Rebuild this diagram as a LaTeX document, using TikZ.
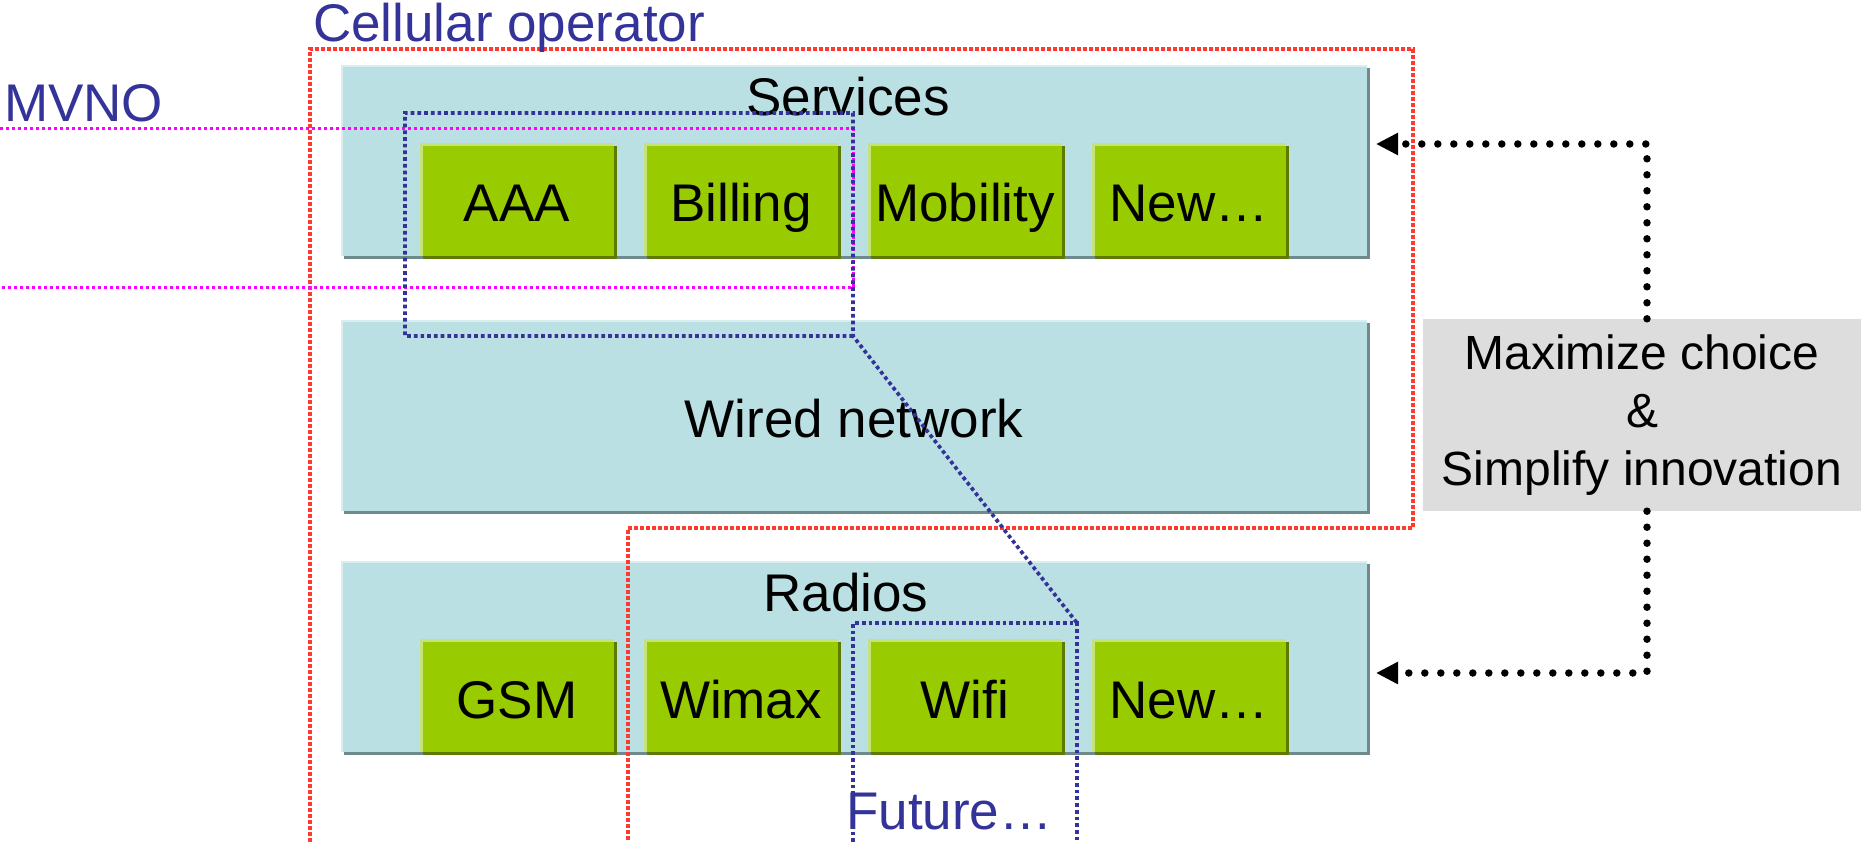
\documentclass[tikz,border=0pt]{standalone}
\usepackage{fontspec}
\setmainfont{Liberation Sans}
\usetikzlibrary{arrows.meta,shadows}

\definecolor{layerfill}{HTML}{BBE0E3}
\definecolor{layershade}{HTML}{6F8A8A}
\definecolor{layerlight}{HTML}{D9EEEF}
\definecolor{modfill}{HTML}{99CC00}
\definecolor{modshade}{HTML}{5F7A00}
\definecolor{modlight}{HTML}{C6E27A}
\definecolor{opred}{HTML}{FF3B30}
\definecolor{mvnoblue}{HTML}{333399}
\definecolor{mvnopink}{HTML}{FF00FF}
\definecolor{notegray}{HTML}{DDDDDD}

\newcommand\lblfont{\fontsize{53}{60}\selectfont}
\newcommand\notefont{\fontsize{48}{58}\selectfont}

\begin{document}
\begin{tikzpicture}[x=1pt,y=-1pt,
  layer/.style={fill=layerfill, draw=none, inner sep=0pt, outer sep=0pt,
    minimum width=1026pt, minimum height=191pt,
    drop shadow={shadow xshift=3pt, shadow yshift=-3pt, opacity=1, fill=layershade}},
  module/.style={fill=modfill, draw=none, inner sep=0pt, outer sep=0pt,
    minimum width=194pt, minimum height=113pt, font=\lblfont,
    drop shadow={shadow xshift=3pt, shadow yshift=-3pt, opacity=1, fill=modshade}},
  layerhl/.style={draw=layerlight, line width=2.5pt},
  modhl/.style={draw=modlight, line width=3pt},
  caption/.style={font=\lblfont, anchor=base, inner sep=0pt},
  grouptitle/.style={font=\lblfont, text=mvnoblue, anchor=base west, inner sep=0pt},
  opline/.style={draw=opred, line width=4pt, dash pattern=on 4pt off 2pt},
  mvnoline/.style={draw=mvnoblue, line width=3.7pt, dash pattern=on 3.7pt off 3pt},
  pinkline/.style={draw=mvnopink, line width=3pt, dash pattern=on 3pt off 3pt},
  feedback/.style={draw=black, line width=7.5pt, line cap=round,
    dash pattern=on 0pt off 16pt, -{Triangle[length=22pt,width=21pt]}},
  note/.style={fill=notegray, draw=none, inner sep=0pt, minimum width=438pt,
    minimum height=192pt, align=center, font=\notefont}
]
\useasboundingbox (0,0) rectangle (1864,842);

% three layers of the stack
\node[layer] (svc)   at (854,160.5) {};
\node[layer] (wired) at (854,415.5) {};
\node[layer] (radio) at (854,656.5) {};
\foreach \n in {svc,wired,radio}
  \draw[layerhl] ([xshift=1.2pt]\n.south west) |- ([yshift=-1.2pt]\n.north east);

% layer captions
\node[caption] (svccap)   at (848,116) {Services};
\node[caption] (wiredcap) at (854,437) {Wired network};
\node[caption] (radiocap) at (846,611) {Radios};

% service modules
\node[module] (aaa)  at (517,199.5)  {};
\node[module] (bill) at (741,199.5)  {};
\node[module] (mob)  at (965,199.5)  {};
\node[module] (snew) at (1189,199.5) {};
% radio modules
\node[module] (gsm)   at (517,695.5)  {};
\node[module] (wimax) at (741,695.5)  {};
\node[module] (wifi)  at (965,695.5)  {};
\node[module] (rnew)  at (1189,695.5) {};
\foreach \n in {aaa,bill,mob,snew,gsm,wimax,wifi,rnew}
  \draw[modhl] ([xshift=1.5pt]\n.south west) |- ([yshift=-1.5pt]\n.north east);

\node[caption] (aaat)   at (517,222)  {AAA};
\node[caption] (billt)  at (741,222)  {Billing};
\node[caption] (mobt)   at (965,222)  {Mobility};
\node[caption] (snewt)  at (1189,222) {New…};
\node[caption] (gsmt)   at (517,718)  {GSM};
\node[caption] (wimaxt) at (741,718)  {Wimax};
\node[caption] (wifit)  at (965,718)  {Wifi};
\node[caption] (rnewt)  at (1189,718) {New…};

% cellular operator boundary
\draw[opline] (310,842) -- (310,49) -- (1413,49) -- (1413,528) -- (628,528) -- (628,842);

% MVNO band
\draw[pinkline] (0,129) -- (853,129) -- (853,288) -- (0,288);

% future technology outline
\draw[mvnoline] (853,336) -- (405,336) -- (405,113) -- (853,113) -- (853,336) -- (1077,623);
\draw[mvnoline] (853,842) -- (853,623) -- (1077,623) -- (1077,842);

% group titles
\node[grouptitle] (optitle)   at (313,42)  {Cellular operator};
\node[grouptitle] (mvnotitle) at (4,122)   {MVNO};
\node[grouptitle] (futtitle)  at (846,829) {Future…};

% goal note and its feedback arrows
\coordinate (svcin)   at (1376,144);
\coordinate (radioin) at (1376,673);
\node[note] (goal) at (1642,415) {Maximize choice\\\&\\Simplify innovation};
\draw[feedback] ([xshift=5pt]goal.north) |- (svcin);
\draw[feedback] ([xshift=5pt]goal.south) |- (radioin);
\end{tikzpicture}
\end{document}
